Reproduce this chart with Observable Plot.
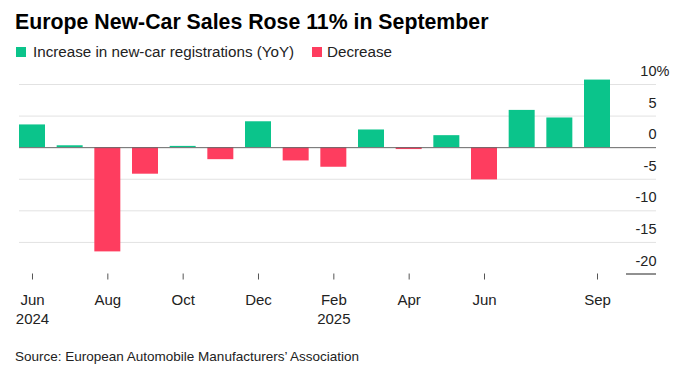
<!DOCTYPE html>
<html>
<head>
<meta charset="utf-8">
<script src="https://cdn.jsdelivr.net/npm/d3@7"></script>
<script src="https://cdn.jsdelivr.net/npm/@observablehq/plot@0.6"></script>
<style>
  html, body { margin: 0; padding: 0; background: #fff; }
  body { width: 680px; height: 368px; position: relative; overflow: hidden; font-family: "Liberation Sans", Arial, sans-serif; color: #000; }
  .abs { position: absolute; white-space: nowrap; }
  #title { left: 15px; top: 12px; font-size: 21.3px; line-height: 21px; font-weight: bold; color: #000; }
  .leg { top: 44px; font-size: 15.2px; line-height: 15px; color: #222; }
  .sw { position: absolute; top: 47px; width: 10px; height: 10px; }
  #source { left: 15px; top: 350px; font-size: 13.5px; line-height: 14px; color: #222; }
  #chart { position: absolute; left: 0; top: 60px; }
</style>
</head>
<body>
<div id="title" class="abs">Europe New-Car Sales Rose 11% in September</div>
<div class="sw" style="left:16px;background:#0bc48b"></div>
<div class="abs leg" style="left:33px">Increase in new-car registrations (YoY)</div>
<div class="sw" style="left:312px;background:#fe3d5f"></div>
<div class="abs leg" style="left:327px">Decrease</div>
<div id="chart"></div>
<div id="source" class="abs">Source: European Automobile Manufacturers’ Association</div>
<script>
const months = ["2024-06","2024-07","2024-08","2024-09","2024-10","2024-11","2024-12",
  "2025-01","2025-02","2025-03","2025-04","2025-05","2025-06","2025-07","2025-08","2025-09"];
const values = [3.6, 0.3, -16.5, -4.2, 0.2, -1.9, 4.1, -2.1, -3.1, 2.8, -0.3, 1.9, -5.1, 5.9, 4.7, 10.7];
const tickMonths = ["2024-06","2024-08","2024-10","2024-12","2025-02","2025-04","2025-06","2025-09"];
const tickLabels = ["Jun\n2024","Aug","Oct","Dec","Feb\n2025","Apr","Jun","Sep"];
const yTicks = [10, 5, 0, -5, -10, -15, -20];
const yGrid = [10, 5, -5, -10, -15];

const data = months.map((m, i) => ({month: m, value: values[i], up: values[i] >= 0}));
const labelOf = new Map(tickMonths.map((m, i) => [m, tickLabels[i]]));
const GREEN = "#0bc48b", RED = "#fe3d5f";

const plot = Plot.plot({
  width: 680,
  height: 270,
  marginLeft: 19,
  marginRight: 24,
  marginTop: 24,
  marginBottom: 56.5,
  style: {fontFamily: "Liberation Sans, Arial, sans-serif", fontSize: "15px", color: "#222", background: "transparent"},
  x: {type: "band", domain: months, range: [19, 610], paddingInner: 0.31, paddingOuter: 0, round: false, axis: null},
  y: {domain: [-20, 10], axis: null},
  marks: [
    Plot.ruleY(yGrid, {stroke: "#e2e2e2", strokeWidth: 1}),
    Plot.barY(data, {x: "month", y: "value", fill: d => d.up ? GREEN : RED}),
    Plot.ruleY([0], {stroke: "#666", strokeWidth: 1}),
    Plot.ruleY([-20], {stroke: "#222", strokeWidth: 1, insetLeft: 607}),
    Plot.text(yTicks, {y: d => d, text: d => String(d), frameAnchor: "right", textAnchor: "end", dy: -13, fontSize: 14.5, fill: "#222"}),
    Plot.text([10], {y: d => d, text: () => "%", frameAnchor: "right", textAnchor: "start", dy: -13, fontSize: 14.5, fill: "#222"}),
    Plot.axisX({ticks: tickMonths, tickFormat: d => labelOf.get(d), tickSize: 6, tickPadding: 11, stroke: "#555", lineHeight: 1.27, fontSize: 15, fill: "#222", label: null})
  ]
});
document.getElementById("chart").appendChild(plot);
</script>
</body>
</html>
